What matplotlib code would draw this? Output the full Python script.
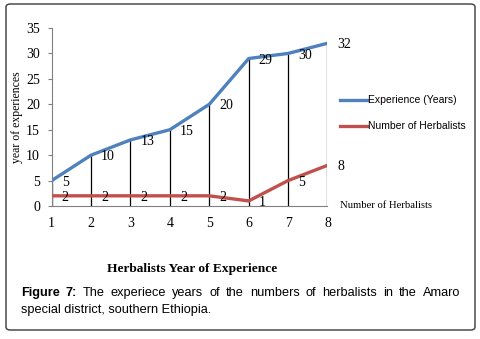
import matplotlib
matplotlib.use("Agg")
import matplotlib.pyplot as plt
from matplotlib.patches import FancyBboxPatch
from matplotlib.lines import Line2D

categories = [1, 2, 3, 4, 5, 6, 7, 8]
experience = [5, 10, 13, 15, 20, 29, 30, 32]
herbalists = [2, 2, 2, 2, 2, 1, 5, 8]
yticks = [0, 5, 10, 15, 20, 25, 30, 35]

W, H = 481, 339
fig = plt.figure(figsize=(W / 100, H / 100), dpi=100)
fig.patch.set_facecolor("white")

# rounded frame
frame = FancyBboxPatch((6 / W, 1 - 330 / H), (475 - 6) / W, (330 - 4) / H,
                       boxstyle="round,pad=0,rounding_size=0.009",
                       transform=fig.transFigure, facecolor="none",
                       edgecolor="#4a4a4a", linewidth=1.1, zorder=0)
fig.patches.append(frame)

ax = fig.add_axes([51.7 / W, 1 - 206 / H, (327.5 - 51.7) / W, (206 - 28) / H])
ax.set_xlim(1, 8)
ax.set_ylim(0, 35)
ax.set_facecolor("none")

blue = "#4F81BD"
red = "#C0504D"

# drop lines
for x, y in zip(categories, experience):
    ax.plot([x, x], [0, y], color="black", lw=0.9, zorder=2)

ax.plot(categories, experience, color=blue, lw=2.4, zorder=3, solid_capstyle="butt")
ax.plot(categories, herbalists, color=red, lw=2.4, zorder=3, solid_capstyle="butt")

serif = "Liberation Serif"
fs = 10
for x, y in zip(categories, experience):
    ax.annotate(str(y), (x, y), xytext=(7.2, -1.2), textcoords="offset points",
                ha="left", va="center", fontsize=fs, family=serif, zorder=4)
for x, y in zip(categories, herbalists):
    ax.annotate(str(y), (x, y), xytext=(7.2, -1.2), textcoords="offset points",
                ha="left", va="center", fontsize=fs, family=serif, zorder=4)

for s in ["top", "right"]:
    ax.spines[s].set_visible(False)
ax.spines["left"].set_color("#808080")
ax.spines["bottom"].set_color("#808080")
ax.spines["left"].set_linewidth(0.8)
ax.spines["bottom"].set_linewidth(0.8)

ax.set_xticks(categories)
ax.set_xticklabels([str(c) for c in categories], family=serif, fontsize=fs)
ax.set_yticks(yticks)
ax.set_yticklabels([str(v) for v in yticks], family=serif, fontsize=fs)
ax.tick_params(axis="x", length=0, pad=8)
ax.tick_params(axis="y", length=3, width=0.8, color="#808080", pad=5.5)

# y label
fig.text(17 / W, 1 - 117 / H, "year of experiences", rotation=90, ha="center",
         va="center", family=serif, fontsize=8.5)

# legend (manual)
fig.lines.append(Line2D([340 / W, 367 / W], [1 - 100 / H, 1 - 100 / H],
                        transform=fig.transFigure, color=blue, lw=2.4))
fig.lines.append(Line2D([340 / W, 367 / W], [1 - 126 / H, 1 - 126 / H],
                        transform=fig.transFigure, color=red, lw=2.4))
fig.text(368 / W, 1 - 100 / H, "Experience (Years)", ha="left", va="center",
         family="Liberation Sans", fontsize=7.5)
fig.text(368 / W, 1 - 126 / H, "Number of Herbalists", ha="left", va="center",
         family="Liberation Sans", fontsize=7.5)

fig.text(340 / W, 1 - 205 / H, "Number of Herbalists", ha="left", va="center",
         family=serif, fontsize=7.7)

fig.text(192 / W, 1 - 269 / H, "Herbalists Year of Experience", ha="center",
         va="center", family=serif, fontsize=9.6, fontweight="bold")

# caption (first line justified)
cap_fs = 9.2
renderer = fig.canvas.get_renderer()
words = [("Figure", True), ("7:", True), ("The", False), ("experiece", False),
         ("years", False), ("of", False), ("the", False), ("numbers", False),
         ("of", False), ("herbalists", False), ("in", False), ("the", False),
         ("Amaro", False)]
x_left, x_right = 21.0, 460.0
y1 = 1 - 293 / H
objs = []
for w, bold in words:
    t = fig.text(0, y1, w, ha="left", va="center", family="Liberation Sans",
                 fontsize=cap_fs, fontweight="bold" if bold else "normal")
    objs.append(t)
widths = [t.get_window_extent(renderer).width for t in objs]
gap = (x_right - x_left - sum(widths)) / (len(words) - 1)
x = x_left
for t, wd in zip(objs, widths):
    t.set_x(x / W)
    x += wd + gap
fig.text(21 / W, 1 - 310 / H, "special district, southern Ethiopia.", ha="left",
         va="center", family="Liberation Sans", fontsize=cap_fs)

fig.savefig("out.png", dpi=100)
